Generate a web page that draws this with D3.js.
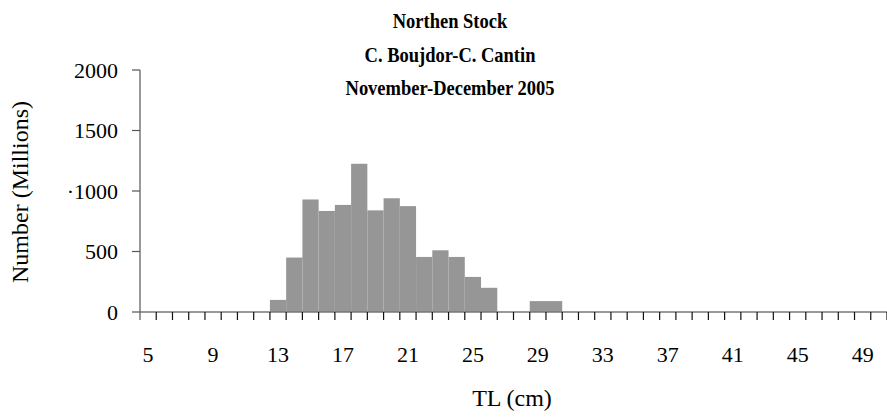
<!DOCTYPE html>
<html>
<head>
<meta charset="utf-8">
<script src="https://cdn.jsdelivr.net/npm/d3@7"></script>
<style>
  html, body { margin: 0; padding: 0; background: #fff; }
  svg { display: block; }
  text { font-family: "Liberation Serif", "Times New Roman", serif; fill: #000; }
</style>
</head>
<body>
<div id="chart"></div>
<script>
// ---- data ----
const lengths = d3.range(5, 51);          // TL classes 5..50 cm
const barLengths = [13, 14, 15, 16, 17, 18, 19, 20, 21, 22, 23, 24, 25, 26, 27, 28, 29, 30];
const barValues  = [100, 450, 930, 835, 885, 1225, 840, 940, 875, 455, 510, 455, 290, 200, 0, 0, 90, 90];
const xTickLabels = [5, 9, 13, 17, 21, 25, 29, 33, 37, 41, 45, 49];
const yTicks = [0, 500, 1000, 1500, 2000];
const yTickLabels = ["0", "500", "·1000", "1500", "2000"];
const titleLines = ["Northen Stock", "C. Boujdor-C. Cantin", "November-December 2005"];
const xTitle = "TL (cm)";
const yTitle = "Number (Millions)";

const W = 887, H = 417;
const plot = { left: 140, right: 887, top: 70, bottom: 312 };

const svg = d3.select("#chart").append("svg").attr("width", W).attr("height", H);

const x = d3.scaleBand().domain(lengths).range([plot.left, plot.right]).padding(0);
const y = d3.scaleLinear().domain([0, 2000]).range([plot.bottom, plot.top]);

// bars
const bars = barLengths.map((l, i) => ({ l, v: barValues[i] }));
svg.append("g").selectAll("rect").data(bars).join("rect")
  .attr("x", d => x(d.l))
  .attr("y", d => y(d.v))
  .attr("width", x.bandwidth())
  .attr("height", d => y(0) - y(d.v))
  .attr("fill", "#969696");

// x axis line and ticks at category boundaries
const gx = svg.append("g");
gx.append("line")
  .attr("x1", plot.left).attr("x2", plot.right)
  .attr("y1", y(0)).attr("y2", y(0))
  .attr("stroke", "#777").attr("stroke-width", 1.5);
const boundaries = lengths.map(l => x(l)).concat([x(lengths[lengths.length - 1]) + x.bandwidth()]);
gx.selectAll("line.tick").data(boundaries.slice(1)).join("line")
  .attr("class", "tick")
  .attr("x1", d => d).attr("x2", d => d)
  .attr("y1", y(0)).attr("y2", y(0) + 8)
  .attr("stroke", "#111").attr("stroke-width", 1.2);
gx.selectAll("text").data(xTickLabels).join("text")
  .attr("x", d => x(d) + x.bandwidth() / 2)
  .attr("y", 362)
  .attr("text-anchor", "middle")
  .attr("font-size", 22)
  .text(d => d);

// y axis
const gy = svg.append("g");
gy.append("line")
  .attr("x1", plot.left).attr("x2", plot.left)
  .attr("y1", y(0) + 8).attr("y2", y(2000))
  .attr("stroke", "#777").attr("stroke-width", 1.5);
gy.selectAll("line.tick").data(yTicks).join("line")
  .attr("class", "tick")
  .attr("x1", plot.left - 8).attr("x2", plot.left)
  .attr("y1", d => y(d)).attr("y2", d => y(d))
  .attr("stroke", "#555").attr("stroke-width", 1.2);
gy.selectAll("text").data(yTicks).join("text")
  .attr("x", 118)
  .attr("y", d => y(d))
  .attr("dy", "0.35em")
  .attr("text-anchor", "end")
  .attr("font-size", 22)
  .text((d, i) => yTickLabels[i]);

// titles (slightly stretched vertically like the source image)
svg.append("g").selectAll("text").data(titleLines).join("text")
  .attr("transform", (d, i) => `translate(450,${28 + i * 33.5}) scale(1,1.15)`)
  .attr("text-anchor", "middle")
  .attr("font-size", 18.5)
  .attr("font-weight", "bold")
  .text(d => d);

svg.append("text")
  .attr("x", 512).attr("y", 406)
  .attr("text-anchor", "middle")
  .attr("font-size", 24)
  .text(xTitle);

svg.append("text")
  .attr("transform", "translate(28,192) rotate(-90)")
  .attr("text-anchor", "middle")
  .attr("font-size", 24)
  .text(yTitle);
</script>
</body>
</html>
